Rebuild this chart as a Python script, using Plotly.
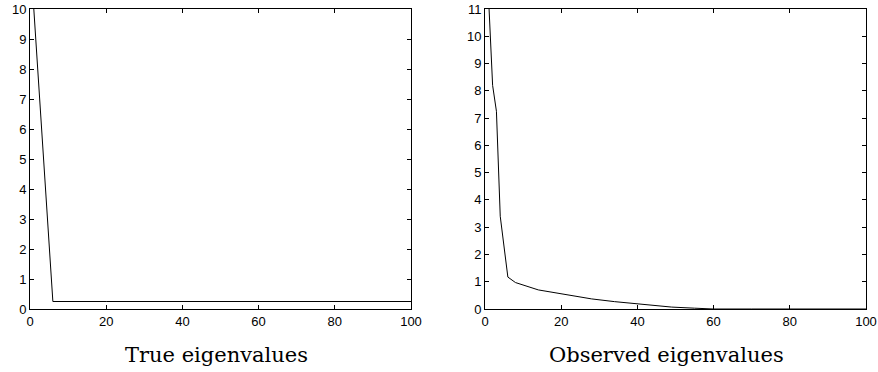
import plotly.graph_objects as go

# True eigenvalues
true_x = [1, 2, 3, 4, 5, 6, 20, 40, 60, 80, 100]
true_y = [10, 8.05, 6.1, 4.15, 2.2, 0.25, 0.25, 0.25, 0.25, 0.25, 0.25]

# Observed eigenvalues
obs_x = [1, 2, 3, 4, 6, 8, 14, 20, 24, 26, 28, 34, 40, 44, 49, 55, 60, 70, 80, 90, 100]
obs_y = [11.2, 8.2, 7.25, 3.4, 1.17, 0.97, 0.70, 0.57, 0.46, 0.44, 0.37, 0.27, 0.19,
         0.15, 0.07, 0.03, 0.0, 0.0, 0.0, 0.0, 0.0]

x_ticks = [0, 20, 40, 60, 80, 100]
left_y_ticks = list(range(0, 11))
right_y_ticks = list(range(0, 12))

titles = ["True eigenvalues", "Observed eigenvalues"]

W, H = 878, 372
fig = go.Figure()
fig.add_trace(go.Scatter(x=true_x, y=true_y, mode="lines",
                         line=dict(color="black", width=1), xaxis="x", yaxis="y",
                         showlegend=False, cliponaxis=True))
fig.add_trace(go.Scatter(x=obs_x, y=obs_y, mode="lines",
                         line=dict(color="black", width=1), xaxis="x2", yaxis="y2",
                         showlegend=False, cliponaxis=True))

tickfont = dict(family="Liberation Sans, Arial, sans-serif", size=13, color="black")
ax_common = dict(showline=True, linecolor="black", linewidth=1, mirror="ticks",
                 ticks="inside", ticklen=4, tickcolor="black", tickwidth=1,
                 showgrid=False, zeroline=False, tickfont=tickfont, fixedrange=True,
                 automargin=False)

ydom = [(H - 309) / H, (H - 9) / H]
fig.update_layout(
    width=W, height=H,
    margin=dict(l=0, r=0, t=0, b=0, pad=0, autoexpand=False),
    paper_bgcolor="white", plot_bgcolor="white",
    xaxis=dict(domain=[30 / W, 411 / W], range=[0, 100], tickvals=x_ticks, anchor="y", **ax_common),
    yaxis=dict(domain=ydom, range=[0, 10], tickvals=left_y_ticks, anchor="x", **ax_common),
    xaxis2=dict(domain=[485 / W, 866 / W], range=[0, 100], tickvals=x_ticks, anchor="y2", **ax_common),
    yaxis2=dict(domain=ydom, range=[0, 11], tickvals=right_y_ticks, anchor="x2", **ax_common),
    annotations=[
        dict(text=titles[0], x=216 / W, y=(H - 355) / H, xref="paper", yref="paper",
             showarrow=False, xanchor="center", yanchor="middle",
             font=dict(family="DejaVu Serif, serif", size=21, color="black")),
        dict(text=titles[1], x=666 / W, y=(H - 355) / H, xref="paper", yref="paper",
             showarrow=False, xanchor="center", yanchor="middle",
             font=dict(family="DejaVu Serif, serif", size=21, color="black")),
    ],
)

fig.write_html("out.html")
